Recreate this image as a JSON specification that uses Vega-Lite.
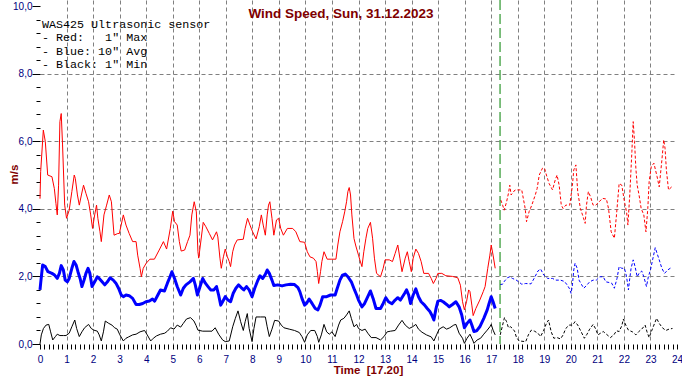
{
  "$schema": "https://vega.github.io/schema/vega-lite/v6.json",
  "autosize": {"type": "none"},
  "width": 637,
  "height": 344,
  "padding": {"left": 40, "top": 0, "right": 5, "bottom": 36},
  "background": "white",
  "config": {"view": {"stroke": null}},
  "resolve": {"axis": {"x": "independent", "y": "independent"}},
  "datasets": {
    "maxA": [
      {"t":0,"v":4.3},{"t":0.025,"v":5.1},{"t":0.125,"v":6.33},{"t":0.2,"v":5.99},{"t":0.29,"v":5.0},{"t":0.45,"v":4.95},{"t":0.54,"v":4.6},{"t":0.6,"v":4.16},{"t":0.65,"v":3.82},{"t":0.7,"v":4.7},{"t":0.75,"v":6.58},{"t":0.8,"v":6.82},{"t":0.85,"v":5.89},{"t":0.93,"v":4.11},{"t":1.0,"v":3.72},{"t":1.1,"v":3.96},{"t":1.2,"v":4.51},{"t":1.29,"v":5.0},{"t":1.33,"v":4.9},{"t":1.41,"v":4.41},{"t":1.48,"v":4.11},{"t":1.56,"v":4.41},{"t":1.64,"v":4.7},{"t":1.73,"v":4.46},{"t":1.83,"v":4.21},{"t":1.91,"v":3.82},{"t":1.98,"v":3.42},{"t":2.06,"v":3.82},{"t":2.13,"v":4.11},{"t":2.18,"v":3.72},{"t":2.26,"v":3.32},{"t":2.31,"v":3.03},{"t":2.41,"v":3.82},{"t":2.51,"v":4.11},{"t":2.61,"v":4.41},{"t":2.69,"v":4.21},{"t":2.79,"v":3.22},{"t":2.93,"v":3.27},{"t":2.99,"v":3.27},{"t":3.14,"v":3.82},{"t":3.24,"v":3.52},{"t":3.36,"v":3.27},{"t":3.49,"v":3.03},{"t":3.62,"v":3.03},{"t":3.68,"v":2.63},{"t":3.77,"v":2.24},{"t":3.82,"v":1.99},{"t":3.89,"v":2.24},{"t":4.0,"v":2.39},{"t":4.14,"v":2.51},{"t":4.31,"v":2.51},{"t":4.49,"v":2.78},{"t":4.65,"v":3.03},{"t":4.77,"v":2.81},{"t":4.91,"v":3.42},{"t":5.0,"v":3.93},{"t":5.07,"v":3.62},{"t":5.17,"v":3.52},{"t":5.25,"v":3.03},{"t":5.32,"v":2.75},{"t":5.45,"v":2.78},{"t":5.56,"v":3.03},{"t":5.65,"v":3.22},{"t":5.72,"v":3.82},{"t":5.81,"v":4.21},{"t":5.89,"v":3.91},{"t":5.95,"v":2.73},{"t":5.98,"v":2.54},{"t":6.15,"v":3.6},{"t":6.25,"v":3.47},{"t":6.38,"v":3.27},{"t":6.5,"v":3.08},{"t":6.65,"v":3.32},{"t":6.7,"v":3.17},{"t":6.78,"v":2.54},{"t":6.83,"v":2.24},{"t":6.91,"v":2.58},{"t":6.98,"v":2.81},{"t":7.06,"v":2.58},{"t":7.13,"v":2.44},{"t":7.18,"v":2.29},{"t":7.26,"v":2.73},{"t":7.33,"v":2.93},{"t":7.43,"v":3.08},{"t":7.66,"v":3.1},{"t":7.73,"v":3.42},{"t":7.82,"v":3.72},{"t":7.91,"v":3.52},{"t":8.01,"v":3.32},{"t":8.14,"v":3.11},{"t":8.26,"v":3.47},{"t":8.34,"v":3.82},{"t":8.41,"v":3.52},{"t":8.49,"v":3.22},{"t":8.56,"v":3.82},{"t":8.61,"v":4.11},{"t":8.66,"v":4.21},{"t":8.74,"v":3.72},{"t":8.81,"v":3.22},{"t":8.91,"v":3.67},{"t":8.99,"v":3.72},{"t":9.07,"v":3.42},{"t":9.17,"v":3.22},{"t":9.32,"v":3.42},{"t":9.52,"v":3.42},{"t":9.64,"v":3.32},{"t":9.79,"v":3.03},{"t":9.97,"v":3.01},{"t":10.07,"v":2.73},{"t":10.17,"v":2.58},{"t":10.3,"v":2.54},{"t":10.4,"v":2.44},{"t":10.45,"v":2.14},{"t":10.5,"v":1.79},{"t":10.57,"v":2.14},{"t":10.62,"v":2.44},{"t":10.7,"v":2.73},{"t":10.82,"v":2.51},{"t":10.97,"v":2.51},{"t":11.15,"v":2.51},{"t":11.22,"v":2.93},{"t":11.3,"v":3.32},{"t":11.4,"v":3.62},{"t":11.48,"v":3.91},{"t":11.55,"v":4.21},{"t":11.6,"v":4.51},{"t":11.65,"v":4.63},{"t":11.7,"v":4.41},{"t":11.75,"v":3.82},{"t":11.83,"v":3.12},{"t":11.9,"v":2.9},{"t":12.0,"v":2.63},{"t":12.05,"v":2.49},{"t":12.13,"v":2.29},{"t":12.2,"v":2.73},{"t":12.28,"v":3.13},{"t":12.35,"v":3.42},{"t":12.45,"v":3.6},{"t":12.53,"v":3.13},{"t":12.6,"v":2.54},{"t":12.68,"v":2.09},{"t":12.83,"v":1.99},{"t":12.93,"v":2.24},{"t":13.0,"v":2.49},{"t":13.16,"v":2.49},{"t":13.28,"v":2.44},{"t":13.38,"v":2.68},{"t":13.48,"v":2.93},{"t":13.56,"v":2.54},{"t":13.64,"v":2.14},{"t":13.76,"v":2.54},{"t":13.84,"v":2.73},{"t":13.91,"v":2.44},{"t":13.99,"v":2.14},{"t":14.06,"v":2.54},{"t":14.16,"v":2.81},{"t":14.26,"v":2.68},{"t":14.36,"v":2.44},{"t":14.46,"v":2.09},{"t":14.64,"v":2.09},{"t":14.74,"v":1.94},{"t":14.82,"v":1.79},{"t":14.92,"v":1.94},{"t":14.99,"v":2.09},{"t":15.14,"v":2.09},{"t":15.29,"v":2.02},{"t":15.54,"v":2.0},{"t":15.74,"v":1.96},{"t":15.84,"v":1.74},{"t":15.92,"v":1.25},{"t":15.99,"v":1.01},{"t":16.07,"v":1.25},{"t":16.15,"v":1.6},{"t":16.2,"v":1.55},{"t":16.27,"v":1.15},{"t":16.32,"v":0.84},{"t":16.42,"v":1.05},{"t":16.57,"v":1.3},{"t":16.7,"v":1.55},{"t":16.77,"v":1.7},{"t":16.87,"v":2.24},{"t":16.95,"v":2.63},{"t":17.0,"v":2.93},{"t":17.07,"v":2.63},{"t":17.15,"v":2.24}
    ],
    "maxB": [
      {"t":17.36,"v":4.26},{"t":17.43,"v":4.11},{"t":17.49,"v":3.96},{"t":17.58,"v":4.21},{"t":17.65,"v":4.46},{"t":17.7,"v":4.7},{"t":17.75,"v":4.41},{"t":17.8,"v":4.46},{"t":17.9,"v":4.56},{"t":17.99,"v":4.56},{"t":18.15,"v":4.56},{"t":18.28,"v":4.01},{"t":18.33,"v":3.62},{"t":18.43,"v":3.92},{"t":18.53,"v":4.11},{"t":18.66,"v":4.41},{"t":18.73,"v":4.6},{"t":18.81,"v":5.0},{"t":18.93,"v":5.2},{"t":19.01,"v":5.2},{"t":19.08,"v":5.0},{"t":19.18,"v":4.75},{"t":19.31,"v":4.56},{"t":19.41,"v":4.85},{"t":19.48,"v":5.0},{"t":19.56,"v":4.7},{"t":19.64,"v":4.11},{"t":19.71,"v":4.01},{"t":19.81,"v":4.11},{"t":19.96,"v":4.11},{"t":20.06,"v":4.7},{"t":20.11,"v":5.15},{"t":20.19,"v":5.3},{"t":20.26,"v":4.51},{"t":20.36,"v":4.01},{"t":20.44,"v":3.82},{"t":20.54,"v":3.57},{"t":20.59,"v":4.11},{"t":20.66,"v":4.51},{"t":20.74,"v":4.36},{"t":20.84,"v":4.11},{"t":20.94,"v":4.11},{"t":21.07,"v":4.21},{"t":21.19,"v":4.31},{"t":21.34,"v":4.29},{"t":21.42,"v":4.01},{"t":21.52,"v":3.32},{"t":21.64,"v":3.13},{"t":21.72,"v":3.82},{"t":21.82,"v":4.75},{"t":21.92,"v":4.7},{"t":22.02,"v":4.21},{"t":22.1,"v":3.91},{"t":22.15,"v":3.52},{"t":22.22,"v":4.41},{"t":22.3,"v":5.69},{"t":22.35,"v":6.58},{"t":22.4,"v":5.99},{"t":22.45,"v":5.2},{"t":22.5,"v":4.7},{"t":22.57,"v":4.41},{"t":22.65,"v":4.01},{"t":22.75,"v":3.82},{"t":22.83,"v":3.32},{"t":22.9,"v":4.01},{"t":22.95,"v":4.8},{"t":23.03,"v":5.25},{"t":23.13,"v":5.35},{"t":23.25,"v":4.95},{"t":23.33,"v":4.65},{"t":23.43,"v":5.44},{"t":23.5,"v":6.04},{"t":23.55,"v":5.79},{"t":23.6,"v":5.15},{"t":23.68,"v":4.56},{"t":23.8,"v":4.65}
    ],
    "avgA": [
      {"t":0,"v":1.6},{"t":0.03,"v":1.84},{"t":0.1,"v":2.34},{"t":0.2,"v":2.29},{"t":0.3,"v":2.14},{"t":0.45,"v":2.09},{"t":0.55,"v":2.04},{"t":0.65,"v":1.94},{"t":0.73,"v":2.09},{"t":0.8,"v":2.32},{"t":0.88,"v":2.19},{"t":0.95,"v":1.89},{"t":1.03,"v":1.84},{"t":1.1,"v":1.94},{"t":1.2,"v":2.24},{"t":1.28,"v":2.44},{"t":1.36,"v":2.34},{"t":1.43,"v":2.14},{"t":1.51,"v":1.94},{"t":1.58,"v":1.7},{"t":1.66,"v":1.89},{"t":1.73,"v":2.09},{"t":1.81,"v":2.24},{"t":1.88,"v":2.09},{"t":1.96,"v":1.7},{"t":2.06,"v":1.84},{"t":2.16,"v":1.99},{"t":2.23,"v":1.94},{"t":2.34,"v":1.84},{"t":2.44,"v":1.75},{"t":2.54,"v":1.84},{"t":2.64,"v":1.96},{"t":2.76,"v":1.89},{"t":2.86,"v":1.8},{"t":2.96,"v":1.65},{"t":3.06,"v":1.45},{"t":3.14,"v":1.4},{"t":3.24,"v":1.45},{"t":3.36,"v":1.43},{"t":3.49,"v":1.35},{"t":3.62,"v":1.17},{"t":3.74,"v":1.17},{"t":3.87,"v":1.2},{"t":3.99,"v":1.25},{"t":4.12,"v":1.27},{"t":4.24,"v":1.33},{"t":4.32,"v":1.27},{"t":4.44,"v":1.45},{"t":4.54,"v":1.6},{"t":4.69,"v":1.57},{"t":4.8,"v":1.8},{"t":4.9,"v":1.99},{"t":4.97,"v":2.14},{"t":5.07,"v":1.94},{"t":5.17,"v":1.7},{"t":5.3,"v":1.45},{"t":5.4,"v":1.65},{"t":5.5,"v":1.75},{"t":5.65,"v":1.84},{"t":5.78,"v":1.94},{"t":5.85,"v":1.75},{"t":5.93,"v":1.45},{"t":6.03,"v":1.7},{"t":6.13,"v":1.94},{"t":6.23,"v":1.8},{"t":6.33,"v":1.7},{"t":6.43,"v":1.6},{"t":6.55,"v":1.6},{"t":6.65,"v":1.7},{"t":6.73,"v":1.45},{"t":6.81,"v":1.15},{"t":6.88,"v":1.25},{"t":6.98,"v":1.4},{"t":7.08,"v":1.3},{"t":7.18,"v":1.25},{"t":7.28,"v":1.5},{"t":7.38,"v":1.65},{"t":7.48,"v":1.75},{"t":7.58,"v":1.67},{"t":7.68,"v":1.6},{"t":7.78,"v":1.7},{"t":7.88,"v":1.6},{"t":7.99,"v":1.4},{"t":8.09,"v":1.65},{"t":8.19,"v":1.85},{"t":8.29,"v":2.02},{"t":8.39,"v":1.94},{"t":8.49,"v":2.06},{"t":8.56,"v":2.19},{"t":8.64,"v":2.09},{"t":8.74,"v":1.89},{"t":8.81,"v":1.73},{"t":8.96,"v":1.75},{"t":9.12,"v":1.72},{"t":9.27,"v":1.75},{"t":9.44,"v":1.77},{"t":9.59,"v":1.76},{"t":9.72,"v":1.67},{"t":9.79,"v":1.55},{"t":9.87,"v":1.35},{"t":9.97,"v":1.15},{"t":10.04,"v":1.2},{"t":10.14,"v":1.33},{"t":10.25,"v":1.2},{"t":10.37,"v":1.05},{"t":10.47,"v":1.01},{"t":10.55,"v":1.15},{"t":10.65,"v":1.4},{"t":10.8,"v":1.4},{"t":10.95,"v":1.45},{"t":11.12,"v":1.45},{"t":11.2,"v":1.65},{"t":11.3,"v":1.89},{"t":11.4,"v":2.04},{"t":11.5,"v":2.07},{"t":11.6,"v":1.99},{"t":11.73,"v":1.84},{"t":11.85,"v":1.6},{"t":11.93,"v":1.45},{"t":12.0,"v":1.3},{"t":12.13,"v":1.1},{"t":12.23,"v":1.2},{"t":12.35,"v":1.4},{"t":12.45,"v":1.57},{"t":12.55,"v":1.35},{"t":12.66,"v":1.05},{"t":12.83,"v":1.05},{"t":12.93,"v":1.2},{"t":13.03,"v":1.37},{"t":13.13,"v":1.25},{"t":13.26,"v":1.19},{"t":13.38,"v":1.3},{"t":13.48,"v":1.37},{"t":13.58,"v":1.3},{"t":13.74,"v":1.5},{"t":13.81,"v":1.6},{"t":13.89,"v":1.45},{"t":13.96,"v":1.2},{"t":14.06,"v":1.45},{"t":14.16,"v":1.63},{"t":14.26,"v":1.4},{"t":14.36,"v":1.25},{"t":14.49,"v":1.15},{"t":14.59,"v":1.05},{"t":14.69,"v":0.96},{"t":14.76,"v":0.86},{"t":14.84,"v":0.71},{"t":14.92,"v":1.05},{"t":14.99,"v":1.27},{"t":15.09,"v":1.29},{"t":15.19,"v":1.25},{"t":15.32,"v":1.17},{"t":15.42,"v":1.1},{"t":15.54,"v":1.17},{"t":15.67,"v":1.25},{"t":15.79,"v":1.1},{"t":15.89,"v":0.86},{"t":15.99,"v":0.48},{"t":16.09,"v":0.61},{"t":16.2,"v":0.71},{"t":16.27,"v":0.56},{"t":16.35,"v":0.37},{"t":16.45,"v":0.39},{"t":16.57,"v":0.51},{"t":16.72,"v":0.76},{"t":16.85,"v":1.01},{"t":16.92,"v":1.2},{"t":17.0,"v":1.4},{"t":17.07,"v":1.25},{"t":17.15,"v":1.05}
    ],
    "avgB": [
      {"t":17.34,"v":1.76},{"t":17.43,"v":1.77},{"t":17.5,"v":1.86},{"t":17.61,"v":1.96},{"t":17.7,"v":1.99},{"t":17.8,"v":1.94},{"t":17.93,"v":1.9},{"t":18.05,"v":1.83},{"t":18.15,"v":1.77},{"t":18.3,"v":1.79},{"t":18.5,"v":1.78},{"t":18.63,"v":1.96},{"t":18.76,"v":2.16},{"t":18.86,"v":2.22},{"t":18.98,"v":2.04},{"t":19.13,"v":1.94},{"t":19.31,"v":1.94},{"t":19.44,"v":1.89},{"t":19.61,"v":1.89},{"t":19.76,"v":1.85},{"t":19.86,"v":1.75},{"t":19.94,"v":1.65},{"t":20.01,"v":1.5},{"t":20.06,"v":1.75},{"t":20.11,"v":2.19},{"t":20.16,"v":2.39},{"t":20.24,"v":2.24},{"t":20.31,"v":1.89},{"t":20.41,"v":1.75},{"t":20.49,"v":1.65},{"t":20.61,"v":1.75},{"t":20.71,"v":1.84},{"t":20.84,"v":1.89},{"t":20.96,"v":1.89},{"t":21.09,"v":1.99},{"t":21.22,"v":1.99},{"t":21.32,"v":1.84},{"t":21.44,"v":1.82},{"t":21.54,"v":1.8},{"t":21.64,"v":1.65},{"t":21.74,"v":1.94},{"t":21.82,"v":2.29},{"t":21.92,"v":2.24},{"t":22.02,"v":2.24},{"t":22.1,"v":1.99},{"t":22.17,"v":1.6},{"t":22.22,"v":1.94},{"t":22.27,"v":2.24},{"t":22.35,"v":2.49},{"t":22.42,"v":2.29},{"t":22.5,"v":1.99},{"t":22.57,"v":2.09},{"t":22.67,"v":2.16},{"t":22.75,"v":1.99},{"t":22.85,"v":1.7},{"t":22.92,"v":1.99},{"t":23.0,"v":2.19},{"t":23.08,"v":2.49},{"t":23.18,"v":2.85},{"t":23.25,"v":2.68},{"t":23.33,"v":2.49},{"t":23.43,"v":2.24},{"t":23.53,"v":2.09},{"t":23.65,"v":2.19},{"t":23.78,"v":2.26}
    ],
    "minA": [
      {"t":0,"v":0.0},{"t":0.05,"v":0.27},{"t":0.13,"v":0.46},{"t":0.23,"v":0.56},{"t":0.33,"v":0.58},{"t":0.4,"v":0.36},{"t":0.48,"v":0.12},{"t":0.58,"v":0.22},{"t":0.65,"v":0.29},{"t":0.75,"v":0.25},{"t":0.88,"v":0.25},{"t":0.98,"v":0.25},{"t":1.1,"v":0.32},{"t":1.2,"v":0.51},{"t":1.31,"v":0.71},{"t":1.38,"v":0.46},{"t":1.48,"v":0.22},{"t":1.58,"v":0.36},{"t":1.68,"v":0.48},{"t":1.83,"v":0.58},{"t":1.93,"v":0.46},{"t":2.03,"v":0.41},{"t":2.16,"v":0.38},{"t":2.23,"v":0.27},{"t":2.31,"v":0.09},{"t":2.39,"v":0.36},{"t":2.46,"v":0.68},{"t":2.59,"v":0.61},{"t":2.71,"v":0.56},{"t":2.81,"v":0.48},{"t":2.91,"v":0.44},{"t":3.01,"v":0.27},{"t":3.14,"v":0.09},{"t":3.24,"v":0.17},{"t":3.34,"v":0.21},{"t":3.49,"v":0.27},{"t":3.62,"v":0.29},{"t":3.77,"v":0.36},{"t":3.94,"v":0.4},{"t":4.04,"v":0.27},{"t":4.17,"v":0.09},{"t":4.27,"v":0.17},{"t":4.39,"v":0.24},{"t":4.54,"v":0.29},{"t":4.7,"v":0.32},{"t":4.8,"v":0.38},{"t":4.92,"v":0.48},{"t":5.05,"v":0.44},{"t":5.17,"v":0.56},{"t":5.3,"v":0.5},{"t":5.4,"v":0.61},{"t":5.52,"v":0.74},{"t":5.67,"v":0.78},{"t":5.8,"v":0.68},{"t":5.88,"v":0.55},{"t":5.95,"v":0.41},{"t":6.13,"v":0.38},{"t":6.48,"v":0.38},{"t":6.6,"v":0.48},{"t":6.73,"v":0.29},{"t":6.88,"v":0.12},{"t":6.98,"v":0.07},{"t":7.13,"v":0.09},{"t":7.26,"v":0.51},{"t":7.36,"v":0.76},{"t":7.46,"v":0.98},{"t":7.56,"v":0.66},{"t":7.66,"v":0.4},{"t":7.73,"v":0.66},{"t":7.81,"v":0.9},{"t":7.88,"v":0.46},{"t":7.99,"v":0.07},{"t":8.06,"v":0.46},{"t":8.14,"v":0.8},{"t":8.31,"v":0.8},{"t":8.49,"v":0.8},{"t":8.56,"v":0.51},{"t":8.64,"v":0.22},{"t":8.74,"v":0.44},{"t":8.84,"v":0.7},{"t":8.99,"v":0.68},{"t":9.09,"v":0.56},{"t":9.19,"v":0.48},{"t":9.39,"v":0.44},{"t":9.59,"v":0.4},{"t":9.77,"v":0.34},{"t":9.87,"v":0.22},{"t":9.97,"v":0.05},{"t":10.07,"v":0.27},{"t":10.2,"v":0.4},{"t":10.35,"v":0.4},{"t":10.45,"v":0.22},{"t":10.5,"v":0.05},{"t":10.6,"v":0.27},{"t":10.7,"v":0.58},{"t":10.8,"v":0.36},{"t":10.9,"v":0.29},{"t":11.0,"v":0.36},{"t":11.12,"v":0.22},{"t":11.25,"v":0.56},{"t":11.33,"v":0.71},{"t":11.45,"v":0.76},{"t":11.55,"v":0.86},{"t":11.65,"v":0.98},{"t":11.73,"v":0.76},{"t":11.83,"v":0.51},{"t":11.93,"v":0.58},{"t":12.0,"v":0.46},{"t":12.13,"v":0.4},{"t":12.25,"v":0.44},{"t":12.35,"v":0.32},{"t":12.48,"v":0.19},{"t":12.66,"v":0.19},{"t":12.83,"v":0.12},{"t":12.96,"v":0.22},{"t":13.08,"v":0.36},{"t":13.21,"v":0.38},{"t":13.38,"v":0.4},{"t":13.51,"v":0.56},{"t":13.64,"v":0.7},{"t":13.76,"v":0.56},{"t":13.91,"v":0.46},{"t":14.04,"v":0.51},{"t":14.16,"v":0.58},{"t":14.26,"v":0.44},{"t":14.39,"v":0.35},{"t":14.56,"v":0.27},{"t":14.74,"v":0.21},{"t":14.84,"v":0.09},{"t":14.94,"v":0.27},{"t":15.04,"v":0.44},{"t":15.19,"v":0.51},{"t":15.32,"v":0.44},{"t":15.44,"v":0.48},{"t":15.59,"v":0.56},{"t":15.67,"v":0.58},{"t":15.79,"v":0.32},{"t":15.92,"v":0.17},{"t":15.99,"v":0.02},{"t":16.09,"v":0.17},{"t":16.2,"v":0.29},{"t":16.3,"v":0.12},{"t":16.35,"v":0.02},{"t":16.47,"v":0.12},{"t":16.6,"v":0.17},{"t":16.72,"v":0.29},{"t":16.85,"v":0.41},{"t":16.95,"v":0.51},{"t":17.0,"v":0.58},{"t":17.07,"v":0.41},{"t":17.15,"v":0.27}
    ],
    "minB": [
      {"t":17.34,"v":0.27},{"t":17.43,"v":0.56},{"t":17.5,"v":0.78},{"t":17.58,"v":0.66},{"t":17.65,"v":0.48},{"t":17.73,"v":0.51},{"t":17.8,"v":0.46},{"t":17.88,"v":0.38},{"t":17.95,"v":0.2},{"t":18.05,"v":0.09},{"t":18.3,"v":0.07},{"t":18.4,"v":0.27},{"t":18.51,"v":0.41},{"t":18.63,"v":0.38},{"t":18.76,"v":0.32},{"t":18.86,"v":0.22},{"t":18.98,"v":0.41},{"t":19.08,"v":0.61},{"t":19.16,"v":0.71},{"t":19.26,"v":0.36},{"t":19.36,"v":0.17},{"t":19.48,"v":0.19},{"t":19.61,"v":0.15},{"t":19.71,"v":0.27},{"t":19.81,"v":0.46},{"t":19.94,"v":0.56},{"t":20.06,"v":0.56},{"t":20.16,"v":0.66},{"t":20.26,"v":0.56},{"t":20.39,"v":0.36},{"t":20.51,"v":0.17},{"t":20.61,"v":0.29},{"t":20.71,"v":0.44},{"t":20.84,"v":0.58},{"t":20.94,"v":0.44},{"t":21.02,"v":0.27},{"t":21.12,"v":0.32},{"t":21.22,"v":0.37},{"t":21.34,"v":0.29},{"t":21.49,"v":0.19},{"t":21.62,"v":0.27},{"t":21.72,"v":0.39},{"t":21.82,"v":0.37},{"t":21.92,"v":0.54},{"t":21.98,"v":0.74},{"t":22.07,"v":0.56},{"t":22.17,"v":0.41},{"t":22.32,"v":0.36},{"t":22.45,"v":0.27},{"t":22.55,"v":0.36},{"t":22.67,"v":0.44},{"t":22.8,"v":0.56},{"t":22.87,"v":0.36},{"t":22.95,"v":0.19},{"t":23.03,"v":0.36},{"t":23.13,"v":0.56},{"t":23.23,"v":0.76},{"t":23.33,"v":0.61},{"t":23.45,"v":0.48},{"t":23.58,"v":0.4},{"t":23.7,"v":0.44},{"t":23.83,"v":0.46}
    ]
  },
  "layer": [
    {
      "encoding": {
        "x": {
          "field": "t", "type": "quantitative",
          "scale": {"domain": [0, 24], "nice": false, "zero": false},
          "axis": {
            "title": "Time \u00a0[17.20]",
            "titleFont": "Liberation Sans", "titleFontSize": 11.5, "titleFontWeight": "bold", "titleColor": "#800000",
            "titleAnchor": "start", "titleAlign": "center", "titleBaseline": "alphabetic", "titleX": 328, "titleY": 29,
            "values": [0,0.1667,0.3333,0.5,0.6667,0.8333,1,1.1667,1.3333,1.5,1.6667,1.8333,2,2.1667,2.3333,2.5,2.6667,2.8333,3,3.1667,3.3333,3.5,3.6667,3.8333,4,4.1667,4.3333,4.5,4.6667,4.8333,5,5.1667,5.3333,5.5,5.6667,5.8333,6,6.1667,6.3333,6.5,6.6667,6.8333,7,7.1667,7.3333,7.5,7.6667,7.8333,8,8.1667,8.3333,8.5,8.6667,8.8333,9,9.1667,9.3333,9.5,9.6667,9.8333,10,10.1667,10.3333,10.5,10.6667,10.8333,11,11.1667,11.3333,11.5,11.6667,11.8333,12,12.1667,12.3333,12.5,12.6667,12.8333,13,13.1667,13.3333,13.5,13.6667,13.8333,14,14.1667,14.3333,14.5,14.6667,14.8333,15,15.1667,15.3333,15.5,15.6667,15.8333,16,16.1667,16.3333,16.5,16.6667,16.8333,17,17.1667,17.3333,17.5,17.6667,17.8333,18,18.1667,18.3333,18.5,18.6667,18.8333,19,19.1667,19.3333,19.5,19.6667,19.8333,20,20.1667,20.3333,20.5,20.6667,20.8333,21,21.1667,21.3333,21.5,21.6667,21.8333,22,22.1667,22.3333,22.5,22.6667,22.8333,23,23.1667,23.3333,23.5,23.6667,23.8333,24],
            "labelExpr": "abs(datum.value - round(datum.value)) < 0.01 ? format(round(datum.value), 'd') : ''",
            "labelFont": "Liberation Sans", "labelFontSize": 10, "labelColor": "#000080",
            "labelFlush": false, "labelOverlap": false, "labelPadding": 5, "labelBaseline": "top",
            "domain": false, "tickSize": 5, "tickColor": "black", "tickWidth": 1,
            "grid": true, "gridColor": "#808080", "gridDash": [4, 3], "gridWidth": 1,
            "gridOpacity": {"condition": {"test": "abs(datum.value - round(datum.value)) < 0.01 && datum.value > 0.5 && datum.value < 23.5", "value": 1}, "value": 0}
          }
        },
        "y": {
          "field": "v", "type": "quantitative",
          "scale": {"domain": [0, 10.18], "nice": false},
          "axis": {
            "title": "m/s",
            "titleFont": "Liberation Sans", "titleFontSize": 11.5, "titleFontWeight": "bold", "titleColor": "#800000",
            "titleAngle": -90, "titleAlign": "center", "titleBaseline": "alphabetic", "titleX": -23, "titleY": 174,
            "values": [0,0.4,0.8,1.2,1.6,2,2.4,2.8,3.2,3.6,4,4.4,4.8,5.2,5.6,6,6.4,6.8,7.2,7.6,8,8.4,8.8,9.2,9.6,10],
            "labelExpr": "abs(datum.value - round(datum.value/2)*2) < 0.01 ? replace(format(datum.value, '.1f'), '.', ',') : ''",
            "labelFont": "Liberation Sans", "labelFontSize": 10, "labelColor": "#000080",
            "labelFlush": false, "labelOverlap": false, "labelPadding": 0,
            "domain": false, "tickColor": "black", "tickWidth": 1,
            "tickSize": {"condition": {"test": "abs(datum.value - round(datum.value/2)*2) < 0.01", "value": 8}, "value": 4},
            "grid": true, "gridColor": "#808080", "gridDash": [4, 3], "gridWidth": 1,
            "gridOpacity": {"condition": {"test": "abs(datum.value - round(datum.value/2)*2) < 0.01 && datum.value > 1 && datum.value < 9", "value": 1}, "value": 0}
          }
        }
      },
      "layer": [
        {"data": {"name": "maxA"}, "mark": {"type": "line", "color": "#ff0000", "strokeWidth": 1}},
        {"data": {"name": "minA"}, "mark": {"type": "line", "color": "#000000", "strokeWidth": 1}},
        {"data": {"name": "avgA"}, "mark": {"type": "line", "color": "#0000ff", "strokeWidth": 3, "strokeJoin": "round"}},
        {"data": {"name": "maxB"}, "mark": {"type": "line", "color": "#ff0000", "strokeWidth": 1, "strokeDash": [3, 2]}},
        {"data": {"name": "avgB"}, "mark": {"type": "line", "color": "#0000ff", "strokeWidth": 1, "strokeDash": [3, 2]}},
        {"data": {"name": "minB"}, "mark": {"type": "line", "color": "#000000", "strokeWidth": 1, "strokeDash": [3, 2]}}
      ]
    },
    {
      "data": {"values": [{"now": 17.333}]},
      "mark": {"type": "rule", "color": "#008000", "strokeWidth": 1, "strokeDash": [10, 4]},
      "encoding": {"x": {"field": "now", "type": "quantitative", "axis": null}}
    },
    {
      "data": {"values": [{"note": "WAS425 Ultrasonic sensor\n- Red:\u00a0\u00a0\u00a01\" Max\n- Blue: 10\" Avg\n- Black: 1\" Min"}]},
      "mark": {"type": "text", "font": "Liberation Mono", "fontSize": 11.7, "color": "black", "align": "left", "baseline": "alphabetic", "lineBreak": "\n", "lineHeight": 13.5},
      "encoding": {
        "x": {"datum": 0.075, "type": "quantitative", "axis": null},
        "y": {"datum": 9.364, "type": "quantitative", "axis": null},
        "text": {"field": "note", "type": "nominal"}
      }
    },
    {
      "data": {"values": [{"heading": "Wind Speed, Sun, 31.12.2023"}]},
      "mark": {"type": "text", "font": "Liberation Sans", "fontSize": 13.5, "fontWeight": "bold", "color": "#800000", "align": "center", "baseline": "alphabetic"},
      "encoding": {
        "x": {"datum": 11.34, "type": "quantitative", "axis": null},
        "y": {"datum": 9.66, "type": "quantitative", "axis": null},
        "text": {"field": "heading", "type": "nominal"}
      }
    }
  ]
}
